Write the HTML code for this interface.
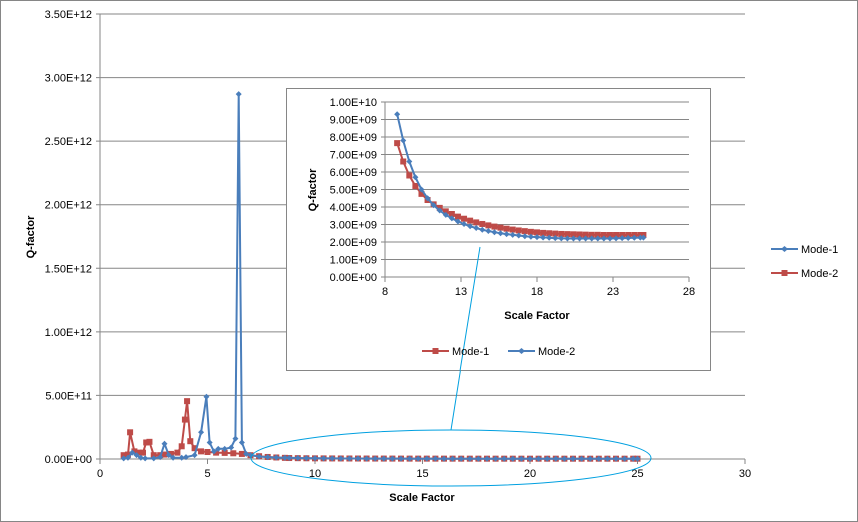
<!DOCTYPE html>
<html><head><meta charset="utf-8"><style>
body{margin:0;background:#fff;}
svg{display:block;font-family:"Liberation Sans",sans-serif;}
</style></head><body>
<svg id="c" width="858" height="522" xmlns="http://www.w3.org/2000/svg">
<rect x="0.5" y="0.5" width="857" height="521" fill="#fff" stroke="#868686"/>
<g id="main"></g>
<g id="inset"></g>
</svg>
<script>
const mainXTicks=[0,5,10,15,20,25,30];
const mainYTicks=[0,0.5e12,1e12,1.5e12,2e12,2.5e12,3e12,3.5e12];
const mainYLabels=["0.00E+00","5.00E+11","1.00E+12","1.50E+12","2.00E+12","2.50E+12","3.00E+12","3.50E+12"];
// main series early part (x, value)
const m1X=[1.1,1.3,1.4,1.6,1.8,2.0,2.15,2.3,2.5,2.8,3.0,3.3,3.6,3.8,3.95,4.05,4.2,4.4,4.7,5.0,5.4,5.8,6.2,6.6,7.0,7.4,7.8,8.2,8.6];
const m1Y=[0.3e11,0.35e11,2.1e11,0.6e11,0.5e11,0.5e11,1.3e11,1.35e11,0.3e11,0.3e11,0.35e11,0.4e11,0.5e11,1.0e11,3.1e11,4.55e11,1.4e11,0.85e11,0.6e11,0.55e11,0.5e11,0.48e11,0.45e11,0.4e11,0.3e11,0.22e11,0.16e11,0.12e11,0.09e11];
const m2X=[1.1,1.3,1.5,1.7,1.9,2.1,2.5,2.8,3.0,3.2,3.4,3.8,4.0,4.4,4.7,4.95,5.1,5.3,5.5,5.8,6.1,6.3,6.45,6.6,6.8,7.0,7.4,7.8,8.2,8.6];
const m2Y=[0.05e11,0.1e11,0.5e11,0.3e11,0.1e11,0.05e11,0.05e11,0.15e11,1.2e11,0.3e11,0.1e11,0.1e11,0.15e11,0.3e11,2.1e11,4.9e11,1.3e11,0.6e11,0.8e11,0.8e11,0.9e11,1.6e11,2.87e12,1.3e11,0.4e11,0.3e11,0.2e11,0.15e11,0.12e11,0.1e11];
// tail (x = 8.8 + 0.4*i), values in 1e9
const tailX=[8.8,9.2,9.6,10,10.4,10.8,11.2,11.6,12,12.4,12.8,13.2,13.6,14,14.4,14.8,15.2,15.6,16,16.4,16.8,17.2,17.6,18,18.4,18.8,19.2,19.6,20,20.4,20.8,21.2,21.6,22,22.4,22.8,23.2,23.6,24,24.4,24.8,25];
const tail1=[7.65,6.6,5.8,5.2,4.75,4.4,4.15,3.95,3.75,3.6,3.45,3.33,3.22,3.12,3.03,2.95,2.88,2.82,2.76,2.71,2.66,2.62,2.58,2.55,2.52,2.5,2.48,2.46,2.45,2.44,2.43,2.42,2.41,2.41,2.4,2.4,2.4,2.4,2.4,2.4,2.4,2.4];
const tail2=[9.3,7.8,6.6,5.7,5.0,4.5,4.1,3.8,3.55,3.35,3.17,3.03,2.9,2.8,2.7,2.63,2.56,2.5,2.45,2.41,2.37,2.33,2.3,2.28,2.26,2.24,2.22,2.21,2.2,2.2,2.2,2.2,2.2,2.2,2.2,2.2,2.21,2.22,2.23,2.24,2.25,2.25];
const insetXTicks=[8,13,18,23,28];
const insetYTicks=[0,1e9,2e9,3e9,4e9,5e9,6e9,7e9,8e9,9e9,1e10];
const insetYLabels=["0.00E+00","1.00E+09","2.00E+09","3.00E+09","4.00E+09","5.00E+09","6.00E+09","7.00E+09","8.00E+09","9.00E+09","1.00E+10"];

const NS="http://www.w3.org/2000/svg";
const BLUE="#4a7ebb",RED="#be4b48";
function mk(parent,tag,attrs,text){const e=document.createElementNS(NS,tag);for(const k in attrs)e.setAttribute(k,attrs[k]);if(text!==undefined)e.textContent=text;parent.appendChild(e);return e;}

function drawChart(g,o){
  const sx=v=>o.x0+(v-o.xmin)/(o.xmax-o.xmin)*(o.x1-o.x0);
  const sy=v=>o.y0-(v-o.ymin)/(o.ymax-o.ymin)*(o.y0-o.y1);
  o.yTicks.forEach((t,i)=>{
    const l=mk(g,'line',{x1:o.x0-4,x2:o.x1,y1:sy(t),y2:sy(t),stroke:'#868686','stroke-width':1});
    
    
    const tx=mk(g,'text',{x:o.x0-8,y:sy(t)+4,'text-anchor':'end','font-size':11,fill:'#000'},o.yLabels[i]);
    
    
  });
  const ax=mk(g,'line',{x1:o.x0,x2:o.x0,y1:o.y1,y2:o.y0,stroke:'#868686'});
  
  
  o.xTicks.forEach(t=>{
    const l=mk(g,'line',{x1:sx(t),x2:sx(t),y1:o.y0,y2:o.y0+5,stroke:'#868686'});
    
    
    const tx=mk(g,'text',{x:sx(t),y:o.y0+18,'text-anchor':'middle','font-size':11},String(t));
    
    
  });
  o.series.forEach(s=>{
    const pts=s.x.map((x,i)=>sx(x).toFixed(1)+','+sy(s.y[i]).toFixed(1)).join(' ');
    const pl=mk(g,'polyline',{points:pts,fill:'none',stroke:s.color,'stroke-width':2});
    
    
    s.x.forEach((x,i)=>{
      const cx=sx(x),cy=sy(s.y[i]);
      let m;
      if(s.marker==='sq'){m=mk(g,'rect',{x:cx-3,y:cy-3,width:6,height:6,fill:s.color});}
      else{m=mk(g,'path',{d:`M${cx-3},${cy}L${cx},${cy-3}L${cx+3},${cy}L${cx},${cy+3}Z`,fill:s.color});}
      
      
    });
  });
}

const main=document.getElementById('main');
const full1X=m1X.concat(tailX), full1Y=m1Y.concat(tail1.map(v=>v*1e9));
const full2X=m2X.concat(tailX), full2Y=m2Y.concat(tail2.map(v=>v*1e9));
drawChart(main,{x0:100,x1:745,y0:459,y1:14,xmin:0,xmax:30,ymin:0,ymax:3.5e12,xTicks:mainXTicks,yTicks:mainYTicks,yLabels:mainYLabels,
 series:[{name:'main-mode-2',x:full1X,y:full1Y,color:RED,marker:'sq'},{name:'main-mode-1',x:full2X,y:full2Y,color:BLUE,marker:'d'}]});
let t=mk(main,'text',{x:422,y:501,'text-anchor':'middle','font-size':11,'font-weight':'bold'},'Scale Factor');


t=mk(main,'text',{x:0,y:0,transform:'translate(34,237) rotate(-90)','text-anchor':'middle','font-size':11,'font-weight':'bold'},'Q-factor');


// legend
[[249,BLUE,'Mode-1','d'],[273,RED,'Mode-2','sq']].forEach(([y,c,l,mkr])=>{
  const lg=mk(main,'g',{});
  
  
  mk(lg,'line',{x1:771,x2:798,y1:y,y2:y,stroke:c,'stroke-width':2});
  if(mkr==='sq')mk(lg,'rect',{x:781.5,y:y-3,width:6,height:6,fill:c});else mk(lg,'path',{d:`M781,${y}L784.5,${y-3}L788,${y}L784.5,${y+3}Z`,fill:c});
  mk(lg,'text',{x:801,y:y+4,'font-size':11},l);
});
// ellipse and connector
let e=mk(main,'ellipse',{cx:451,cy:458,rx:200,ry:28,fill:'none',stroke:'#00a0e0','stroke-width':1});


e=mk(main,'line',{x1:451,y1:430,x2:480,y2:247,stroke:'#00a0e0','stroke-width':1});



// inset
const inset=document.getElementById('inset');
let r=mk(inset,'rect',{x:286.5,y:88.5,width:424,height:282,fill:'#fff',stroke:'#868686'});


drawChart(inset,{x0:385,x1:689,y0:277,y1:102,xmin:8,xmax:28,ymin:0,ymax:1e10,xTicks:insetXTicks,yTicks:insetYTicks,yLabels:insetYLabels,
 series:[{name:'inset-mode-1',x:tailX,y:tail1.map(v=>v*1e9),color:RED,marker:'sq'},{name:'inset-mode-2',x:tailX,y:tail2.map(v=>v*1e9),color:BLUE,marker:'d'}]});
// redraw connector over inset bottom part
e=mk(inset,'line',{x1:460,y1:371,x2:480,y2:247,stroke:'#00a0e0','stroke-width':1});


t=mk(inset,'text',{x:537,y:319,'text-anchor':'middle','font-size':11,'font-weight':'bold'},'Scale Factor');


t=mk(inset,'text',{x:0,y:0,transform:'translate(316,190) rotate(-90)','text-anchor':'middle','font-size':11,'font-weight':'bold'},'Q-factor');


[[422,RED,'Mode-1','sq'],[508,BLUE,'Mode-2','d']].forEach(([x,c,l,mkr])=>{
  const y=351;
  const lg=mk(inset,'g',{});
  
  
  mk(lg,'line',{x1:x,x2:x+27,y1:y,y2:y,stroke:c,'stroke-width':2});
  if(mkr==='sq')mk(lg,'rect',{x:x+10.5,y:y-3,width:6,height:6,fill:c});else mk(lg,'path',{d:`M${x+10},${y}L${x+13.5},${y-3}L${x+17},${y}L${x+13.5},${y+3}Z`,fill:c});
  mk(lg,'text',{x:x+30,y:y+4,'font-size':11},l);
});
</script>
</body></html>
